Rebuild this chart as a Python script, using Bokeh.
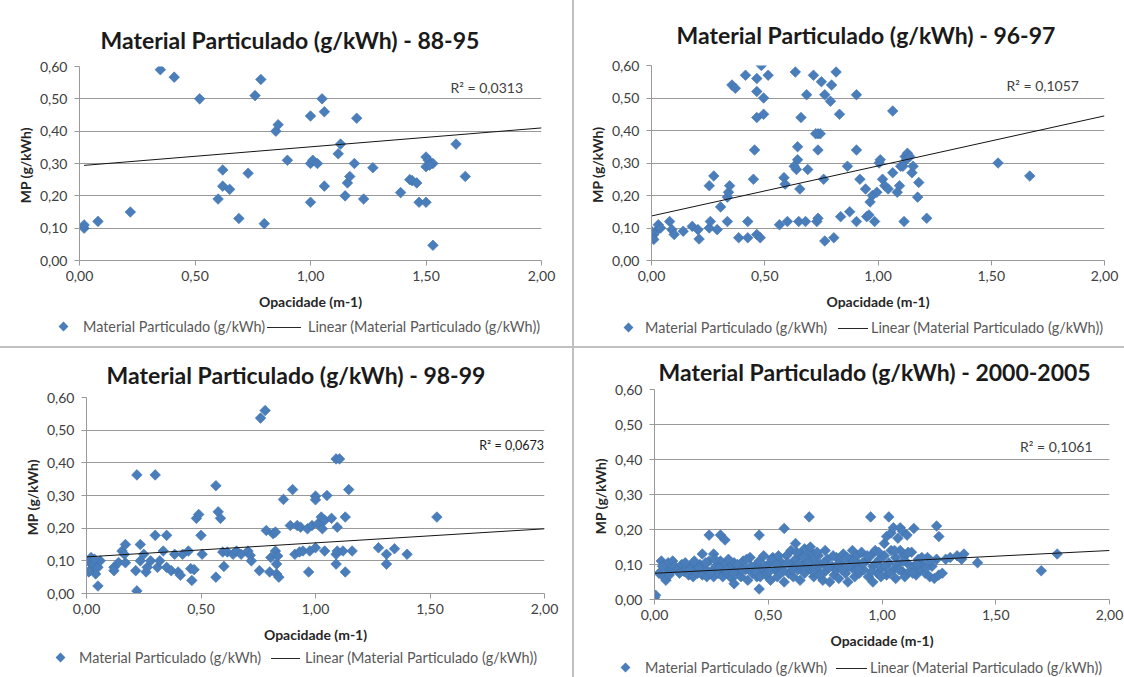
import math
from bokeh.plotting import figure
from bokeh.layouts import column, row
from bokeh.models import Label, FixedTicker, Range1d, Spacer, Div
from bokeh.embed import file_html
from bokeh.resources import INLINE

# ---------------- data ----------------
panel_titles = [
    "Material Particulado (g/kWh) - 88-95",
    "Material Particulado (g/kWh) - 96-97",
    "Material Particulado (g/kWh) - 98-99",
    "Material Particulado (g/kWh) - 2000-2005",
]
x_axis_title = "Opacidade (m-1)"
y_axis_title = "MP  (g/kWh)"
series_name = "Material Particulado (g/kWh)"
trend_name = "Linear (Material Particulado (g/kWh))"

x_ticks = [0.0, 0.5, 1.0, 1.5, 2.0]
x_tick_labels = ["0,00", "0,50", "1,00", "1,50", "2,00"]
y_ticks = [0.0, 0.1, 0.2, 0.3, 0.4, 0.5, 0.6]
y_tick_labels = ["0,00", "0,10", "0,20", "0,30", "0,40", "0,50", "0,60"]

pts_8895 = [
    (0.02, 0.10), (0.02, 0.11), (0.08, 0.121), (0.22, 0.15), (0.35, 0.59), (0.41, 0.567),
    (0.52, 0.50), (0.60, 0.19), (0.62, 0.28), (0.62, 0.23), (0.65, 0.22), (0.69, 0.13),
    (0.73, 0.27), (0.76, 0.51), (0.785, 0.56), (0.80, 0.114), (0.85, 0.40), (0.86, 0.42),
    (0.90, 0.31), (1.00, 0.447), (1.00, 0.30), (1.01, 0.31), (1.03, 0.30), (1.00, 0.18),
    (1.05, 0.50), (1.06, 0.46), (1.06, 0.23), (1.12, 0.33), (1.13, 0.36), (1.15, 0.20),
    (1.16, 0.24), (1.17, 0.26), (1.20, 0.44), (1.19, 0.30), (1.23, 0.19), (1.27, 0.287),
    (1.39, 0.21), (1.43, 0.25), (1.44, 0.247), (1.46, 0.24), (1.47, 0.18), (1.50, 0.18),
    (1.50, 0.32), (1.50, 0.29), (1.51, 0.31), (1.52, 0.30), (1.53, 0.30), (1.515, 0.295),
    (1.53, 0.047), (1.63, 0.36), (1.67, 0.26),
]

pts_9697 = [
    (0.00, 0.07), (0.01, 0.08), (0.01, 0.065), (0.02, 0.09), (0.03, 0.11), (0.04, 0.10),
    (0.00, 0.09), (0.08, 0.12), (0.09, 0.095), (0.10, 0.08), (0.14, 0.09), (0.18, 0.105),
    (0.205, 0.095), (0.21, 0.066), (0.255, 0.10), (0.26, 0.12), (0.255, 0.23), (0.275, 0.26),
    (0.29, 0.095), (0.305, 0.165), (0.335, 0.12), (0.335, 0.195), (0.34, 0.21), (0.345, 0.23),
    (0.355, 0.54), (0.37, 0.53), (0.385, 0.07), (0.415, 0.57), (0.425, 0.12), (0.425, 0.07),
    (0.45, 0.25), (0.455, 0.34), (0.465, 0.56), (0.465, 0.52), (0.465, 0.44), (0.465, 0.08),
    (0.48, 0.07), (0.485, 0.60), (0.495, 0.50), (0.495, 0.45), (0.515, 0.57), (0.565, 0.11),
    (0.585, 0.255), (0.59, 0.235), (0.60, 0.12), (0.635, 0.58), (0.64, 0.28), (0.645, 0.31),
    (0.645, 0.35), (0.63, 0.29), (0.65, 0.12), (0.655, 0.22), (0.66, 0.44), (0.68, 0.12),
    (0.685, 0.51), (0.69, 0.28), (0.715, 0.57), (0.73, 0.12), (0.735, 0.13), (0.735, 0.39),
    (0.745, 0.39), (0.725, 0.39), (0.735, 0.34), (0.75, 0.55), (0.76, 0.25), (0.765, 0.06),
    (0.765, 0.51), (0.795, 0.54), (0.79, 0.49), (0.805, 0.07), (0.815, 0.58), (0.83, 0.45),
    (0.835, 0.135), (0.865, 0.29), (0.875, 0.15), (0.905, 0.12), (0.905, 0.51), (0.905, 0.34),
    (0.92, 0.25), (0.945, 0.22), (0.95, 0.135), (0.96, 0.14), (0.965, 0.18), (0.975, 0.20),
    (0.985, 0.12), (0.995, 0.21), (1.005, 0.30), (1.01, 0.31), (1.02, 0.25), (1.03, 0.23),
    (1.045, 0.22), (1.065, 0.46), (1.065, 0.27), (1.085, 0.21), (1.095, 0.23), (1.10, 0.29),
    (1.11, 0.29), (1.115, 0.12), (1.12, 0.32), (1.125, 0.31), (1.13, 0.33), (1.14, 0.32),
    (1.15, 0.27), (1.155, 0.29), (1.175, 0.195), (1.18, 0.24), (1.215, 0.13), (1.53, 0.30),
    (1.67, 0.26),
]

pts_9899 = [
    (0.01, 0.097), (0.015, 0.07), (0.02, 0.11), (0.03, 0.09), (0.04, 0.06), (0.05, 0.08),
    (0.05, 0.023), (0.06, 0.10), (0.035, 0.105), (0.01, 0.066), (0.12, 0.08), (0.12, 0.07),
    (0.14, 0.095), (0.155, 0.13), (0.17, 0.15), (0.17, 0.094), (0.165, 0.12), (0.22, 0.008),
    (0.22, 0.363), (0.215, 0.07), (0.235, 0.15), (0.235, 0.10), (0.25, 0.12), (0.26, 0.066),
    (0.265, 0.08), (0.28, 0.10), (0.30, 0.363), (0.30, 0.178), (0.31, 0.08), (0.32, 0.10),
    (0.335, 0.13), (0.35, 0.178), (0.35, 0.08), (0.37, 0.07), (0.385, 0.12), (0.40, 0.066),
    (0.41, 0.056), (0.42, 0.12), (0.445, 0.13), (0.455, 0.076), (0.46, 0.04), (0.47, 0.073),
    (0.48, 0.23), (0.49, 0.242), (0.50, 0.178), (0.505, 0.12), (0.565, 0.33), (0.565, 0.05),
    (0.575, 0.25), (0.585, 0.23), (0.595, 0.127), (0.60, 0.083), (0.615, 0.127), (0.64, 0.12),
    (0.655, 0.13), (0.675, 0.12), (0.705, 0.13), (0.715, 0.117), (0.72, 0.10), (0.755, 0.07),
    (0.76, 0.537), (0.78, 0.56), (0.785, 0.193), (0.80, 0.066), (0.805, 0.11), (0.815, 0.183),
    (0.825, 0.188), (0.825, 0.13), (0.83, 0.06), (0.84, 0.05), (0.83, 0.09), (0.835, 0.115),
    (0.86, 0.288), (0.89, 0.208), (0.90, 0.318), (0.91, 0.12), (0.92, 0.208), (0.93, 0.127),
    (0.935, 0.203), (0.945, 0.13), (0.965, 0.198), (0.97, 0.066), (0.975, 0.13), (0.985, 0.208),
    (1.00, 0.298), (1.00, 0.287), (1.00, 0.14), (1.01, 0.213), (1.025, 0.234), (1.03, 0.198),
    (1.04, 0.224), (1.05, 0.30), (1.04, 0.13), (1.07, 0.23), (1.09, 0.412), (1.105, 0.412),
    (1.095, 0.203), (1.09, 0.12), (1.09, 0.09), (1.095, 0.13), (1.12, 0.13), (1.13, 0.234),
    (1.13, 0.066), (1.145, 0.318), (1.16, 0.13), (1.275, 0.14), (1.31, 0.12), (1.31, 0.09),
    (1.345, 0.137), (1.40, 0.12), (1.53, 0.234),
]

pts_20002005 = [
    (0.00, 0.005), (0.005, 0.012), (0.02, 0.075), (0.03, 0.11), (0.04, 0.065), (0.05, 0.055),
    (0.05, 0.09), (0.06, 0.105), (0.07, 0.08), (0.08, 0.11), (0.09, 0.095), (0.10, 0.085),
    (0.12, 0.10), (0.13, 0.08), (0.14, 0.09), (0.15, 0.07), (0.16, 0.095), (0.17, 0.065),
    (0.18, 0.085), (0.19, 0.075), (0.20, 0.10), (0.21, 0.13), (0.21, 0.07), (0.22, 0.09),
    (0.23, 0.065), (0.24, 0.184), (0.24, 0.11), (0.25, 0.08), (0.26, 0.13), (0.26, 0.065),
    (0.27, 0.095), (0.28, 0.075), (0.29, 0.184), (0.29, 0.11), (0.30, 0.085), (0.30, 0.065),
    (0.31, 0.17), (0.31, 0.10), (0.32, 0.075), (0.33, 0.09), (0.34, 0.06), (0.35, 0.105),
    (0.35, 0.045), (0.36, 0.08), (0.37, 0.095), (0.38, 0.065), (0.39, 0.11), (0.40, 0.085),
    (0.41, 0.055), (0.42, 0.12), (0.43, 0.075), (0.44, 0.095), (0.45, 0.065), (0.46, 0.184),
    (0.46, 0.03), (0.46, 0.11), (0.47, 0.085), (0.48, 0.125), (0.49, 0.07), (0.50, 0.10),
    (0.51, 0.055), (0.52, 0.12), (0.53, 0.085), (0.54, 0.065), (0.55, 0.11), (0.56, 0.09),
    (0.57, 0.203), (0.57, 0.05), (0.58, 0.125), (0.59, 0.075), (0.60, 0.10), (0.60, 0.14),
    (0.61, 0.065), (0.62, 0.16), (0.62, 0.115), (0.63, 0.085), (0.64, 0.13), (0.64, 0.055),
    (0.65, 0.10), (0.66, 0.145), (0.66, 0.075), (0.67, 0.12), (0.68, 0.236), (0.68, 0.09),
    (0.69, 0.135), (0.70, 0.065), (0.70, 0.11), (0.71, 0.085), (0.72, 0.125), (0.73, 0.10),
    (0.74, 0.055), (0.75, 0.14), (0.75, 0.08), (0.76, 0.115), (0.77, 0.05), (0.78, 0.095),
    (0.79, 0.07), (0.80, 0.12), (0.80, 0.085), (0.81, 0.06), (0.82, 0.105), (0.83, 0.13),
    (0.84, 0.075), (0.85, 0.05), (0.86, 0.115), (0.87, 0.14), (0.87, 0.09), (0.88, 0.065),
    (0.89, 0.125), (0.90, 0.10), (0.90, 0.075), (0.91, 0.135), (0.92, 0.085), (0.93, 0.11),
    (0.94, 0.065), (0.95, 0.236), (0.95, 0.125), (0.96, 0.05), (0.96, 0.095), (0.97, 0.14),
    (0.98, 0.075), (0.99, 0.115), (1.00, 0.09), (1.01, 0.16), (1.01, 0.125), (1.02, 0.18),
    (1.02, 0.07), (1.03, 0.236), (1.03, 0.105), (1.04, 0.19), (1.04, 0.14), (1.05, 0.085),
    (1.05, 0.205), (1.06, 0.12), (1.06, 0.06), (1.07, 0.175), (1.07, 0.10), (1.08, 0.205),
    (1.08, 0.14), (1.09, 0.08), (1.09, 0.195), (1.10, 0.125), (1.10, 0.065), (1.11, 0.184),
    (1.11, 0.105), (1.12, 0.08), (1.13, 0.135), (1.14, 0.203), (1.14, 0.095), (1.15, 0.07),
    (1.16, 0.115), (1.17, 0.085), (1.18, 0.10), (1.19, 0.075), (1.20, 0.12), (1.21, 0.065),
    (1.22, 0.095), (1.23, 0.06), (1.24, 0.21), (1.24, 0.115), (1.25, 0.18), (1.25, 0.07),
    (1.265, 0.075), (1.28, 0.115), (1.30, 0.12), (1.33, 0.125), (1.35, 0.115), (1.36, 0.13),
    (1.42, 0.105), (1.70, 0.082), (1.77, 0.13),
    (0.035, 0.095), (0.065, 0.07), (0.11, 0.075), (0.135, 0.105), (0.155, 0.085), (0.175, 0.11),
    (0.195, 0.09), (0.225, 0.105), (0.245, 0.075), (0.265, 0.115), (0.285, 0.09), (0.315, 0.085),
    (0.325, 0.115), (0.345, 0.075), (0.365, 0.10), (0.385, 0.085), (0.405, 0.115), (0.425, 0.095),
    (0.445, 0.08), (0.465, 0.065), (0.485, 0.095), (0.505, 0.08), (0.515, 0.115), (0.535, 0.10),
    (0.545, 0.125), (0.565, 0.08), (0.585, 0.105), (0.605, 0.085), (0.625, 0.135), (0.635, 0.10),
    (0.655, 0.12), (0.675, 0.105), (0.685, 0.15), (0.695, 0.08), (0.715, 0.135), (0.725, 0.07),
    (0.745, 0.105), (0.765, 0.09), (0.785, 0.125), (0.805, 0.10), (0.825, 0.085), (0.845, 0.12),
    (0.855, 0.095), (0.875, 0.11), (0.895, 0.085), (0.915, 0.105), (0.935, 0.125), (0.955, 0.08),
    (0.975, 0.105), (0.985, 0.135), (0.995, 0.065), (1.015, 0.095), (1.035, 0.075), (1.055, 0.14),
    (1.075, 0.085), (1.095, 0.11), (1.115, 0.135), (1.135, 0.075), (1.155, 0.10), (1.175, 0.12),
    (1.195, 0.09), (1.215, 0.11),
]

trend_intercepts = [0.293, 0.137, 0.112, 0.075]
trend_slopes = [0.0585, 0.154, 0.043, 0.0325]
trend_x_start = [0.02, 0.0, 0.0, 0.0]
trend_x_end = [2.0, 2.0, 2.0, 2.0]
r2_labels = ["R\u00b2 = 0,0313", "R\u00b2 = 0,1057", "R\u00b2 = 0,0673", "R\u00b2 = 0,1061"]

all_points = [pts_8895, pts_9697, pts_9899, pts_20002005]

# ---------------- style / layout ----------------
FONT = "Lato"
BLUE = "#4a7ebb"
GRID = "#999999"
TXT = "#404040"
SEP = "#c0c0c0"
LEFT_W, RIGHT_W = 572, 550

# width, plot h, left, right, top, bottom, title offset, title standoff,
# r2 x, r2 y, r2 size, legend h, marker x, text1 x, line x0, line x1, text2 x, legend center y
layout_spec = [
    (LEFT_W, 316, 79, 31, 66, 56, 21, 26, 1.606, 0.536, "14px", 30, 64, 83, 267, 301, 308, 11),
    (RIGHT_W, 316, 77, 20, 65, 56, 25, 34, 1.567, 0.539, "14px", 30, 55, 71, 264, 294, 297, 12),
    (LEFT_W, 299, 86, 28, 49, 54, 20, 18, 1.715, 0.453, "12.5px", 30, 61, 79, 271, 300, 305, 11),
    (RIGHT_W, 304, 80, 15, 41, 53, 4, 8, 1.607, 0.436, "14px", 25, 52, 71, 262, 293, 296, 16),
]


def make_panel(i):
    (w, h, bl, br, bt, bb, toff, tstand, rx, ry, rsize,
     lh, mx, t1x, lx0, lx1, t2x, lcy) = layout_spec[i]
    pts = all_points[i]
    xs = [p[0] for p in pts]
    ys = [p[1] for p in pts]
    p = figure(width=w, height=h, x_range=Range1d(0, 2), y_range=Range1d(0, 0.6),
               output_backend="svg", toolbar_location=None,
               min_border_left=bl, min_border_right=br,
               min_border_top=bt, min_border_bottom=bb)
    p.outline_line_color = None
    p.background_fill_color = "white"
    p.border_fill_color = "white"

    p.title.text = panel_titles[i]
    p.title.text_font = FONT
    p.title.text_font_size = "23px"
    p.title.text_font_style = "bold"
    p.title.text_color = "#1a1a1a"
    p.title.align = "left"
    p.title.offset = toff
    p.title.standoff = tstand

    p.xgrid.visible = False
    p.ygrid.ticker = FixedTicker(ticks=y_ticks)
    p.ygrid.grid_line_color = GRID
    p.ygrid.grid_line_width = 1

    for ax in (p.xaxis[0], p.yaxis[0]):
        ax.axis_line_color = GRID
        ax.major_tick_line_color = GRID
        ax.minor_tick_line_color = None
        ax.major_tick_in = 0
        ax.major_tick_out = 5
        ax.major_label_text_font = FONT
        ax.major_label_text_font_size = "14px"
        ax.major_label_text_color = TXT
        ax.axis_label_text_font = FONT
        ax.axis_label_text_font_size = "14px"
        ax.axis_label_text_font_style = "bold"
        ax.axis_label_text_color = "#262626"
    p.xaxis.ticker = FixedTicker(ticks=x_ticks)
    p.xaxis.major_label_overrides = dict(zip(x_ticks, x_tick_labels))
    p.yaxis.ticker = FixedTicker(ticks=y_ticks)
    p.yaxis.major_label_overrides = dict(zip(y_ticks, y_tick_labels))
    p.xaxis.axis_label = x_axis_title
    p.yaxis.axis_label = y_axis_title
    p.xaxis.major_label_standoff = 5
    p.xaxis.axis_label_standoff = 9
    p.yaxis.major_label_standoff = 7
    p.yaxis.axis_label_standoff = 3

    p.scatter(xs, ys, marker="square", size=7.5, angle=math.pi / 4,
              fill_color=BLUE, line_color="#3f71ad", line_width=0.6)
    a, b = trend_intercepts[i], trend_slopes[i]
    x0, x1 = trend_x_start[i], trend_x_end[i]
    p.line([x0, x1], [a + b * x0, a + b * x1], line_color="#141414", line_width=1)

    p.add_layout(Label(x=rx, y=ry, text=r2_labels[i], text_font=FONT,
                       text_font_size=rsize, text_color=TXT if i != 2 else "#1a1a1a",
                       text_baseline="middle"))

    # legend strip under the chart (HTML)
    html = (
        f'<div style="position:relative;width:{w}px;height:{lh}px;font-family:Lato;'
        f'font-size:14.4px;color:#595959;white-space:nowrap;line-height:16px;">'
        f'<span style="position:absolute;left:{mx - 4}px;top:{lcy - 4}px;width:7px;height:7px;'
        f'background:{BLUE};transform:rotate(45deg);"></span>'
        f'<span style="position:absolute;left:{t1x}px;top:{lcy - 8}px;">{series_name}</span>'
        f'<span style="position:absolute;left:{lx0}px;top:{lcy}px;width:{lx1 - lx0}px;height:0;'
        f'border-top:1px solid #262626;"></span>'
        f'<span style="position:absolute;left:{t2x}px;top:{lcy - 8}px;">{trend_name}</span>'
        f'</div>'
    )
    leg = Div(text=html, width=w, height=lh, margin=0)
    return column(p, leg, spacing=0)


tl = make_panel(0)
tr = make_panel(1)
bl_ = make_panel(2)
br_ = make_panel(3)

left_col = column(tl, Spacer(width=LEFT_W, height=2, margin=0, styles={"background-color": SEP}),
                  bl_, spacing=0)
right_col = column(tr, Spacer(width=RIGHT_W, height=2, margin=0, styles={"background-color": SEP}),
                   br_, spacing=0)
layout = row(left_col, Spacer(width=2, height=677, margin=0, styles={"background-color": SEP}),
             right_col, spacing=0)

open("out.html", "w").write(file_html(layout, INLINE))
